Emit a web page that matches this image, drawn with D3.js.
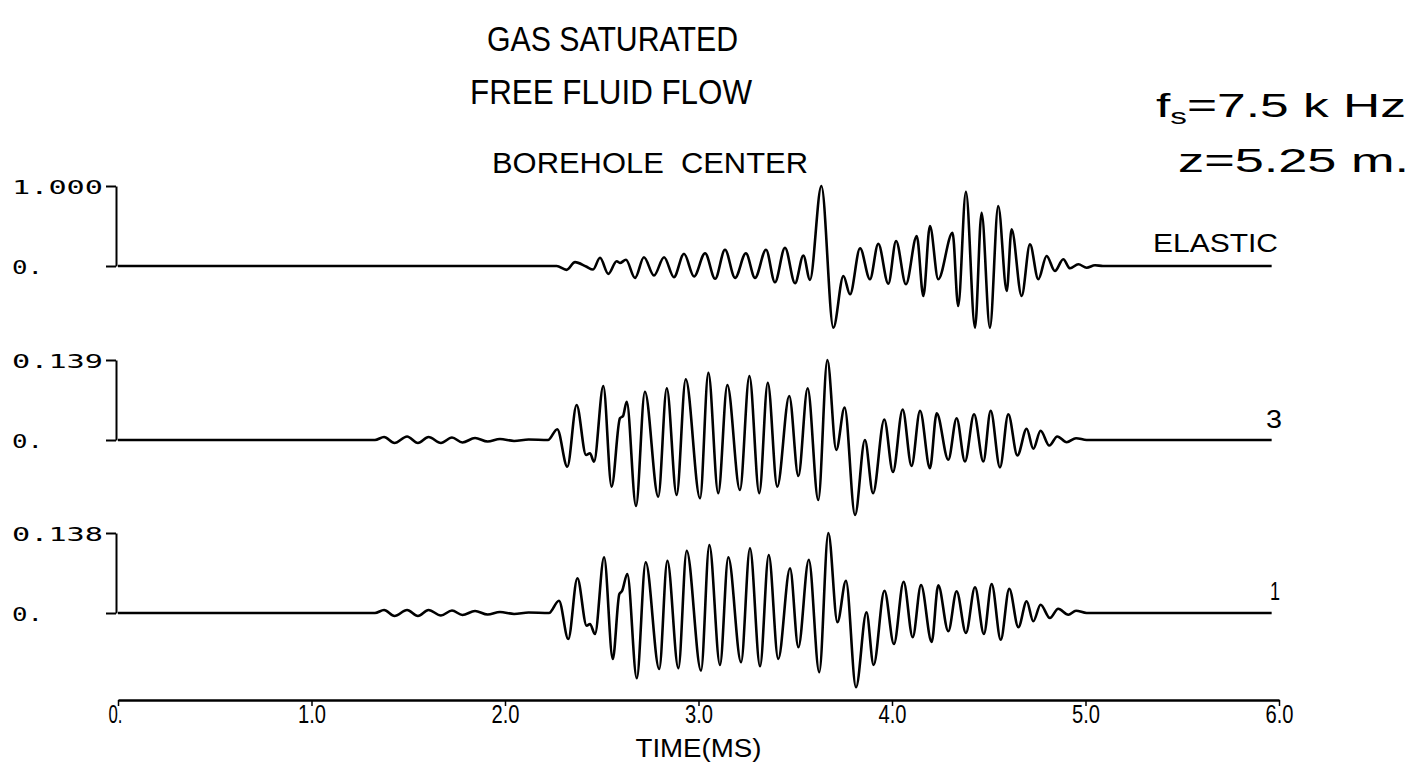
<!DOCTYPE html>
<html>
<head>
<meta charset="utf-8">
<script src="https://cdn.jsdelivr.net/npm/d3@7"></script>
<style>
  html, body { margin: 0; padding: 0; background: #fff; }
  svg { display: block; }
  text { fill: #000; }
</style>
</head>
<body>
<svg id="chart" width="1419" height="772"></svg>
<script>
// Time axis ticks (ms) and their printed labels
const timeTicks = [0, 1, 2, 3, 4, 5, 6];
const timeTickLabels = ["0.", "1.0", "2.0", "3.0", "4.0", "5.0", "6.0"];

// Trace names, full-scale amplitudes and the printed scale labels
const traceNames = ["ELASTIC", "3", "1"];
const traceScaleMax = [1.000, 0.139, 0.138];
const traceScaleLabels = ["1.000", "0.139", "0.138"];

// Waveforms at the borehole center: [time (ms), amplitude]
const traceElastic = [
  [0, 0], [2.267, 0], [2.318, -0.048], [2.362, 0.048], [2.419, -0.006], [2.455, -0.044],
  [2.491, 0.103], [2.534, -0.098], [2.577, 0.060], [2.594, 0.038], [2.625, 0.078],
  [2.672, -0.148], [2.718, 0.110], [2.770, -0.119], [2.822, 0.110], [2.873, -0.140],
  [2.925, 0.153], [2.977, -0.131], [3.034, 0.160], [3.086, -0.160], [3.137, 0.203],
  [3.189, -0.148], [3.245, 0.160], [3.292, -0.148], [3.349, 0.203], [3.395, -0.203],
  [3.447, 0.228], [3.499, -0.215], [3.542, 0.131], [3.576, -0.173], [3.635, 1.000],
  [3.697, -0.771], [3.749, -0.125], [3.783, -0.354], [3.835, 0.221], [3.886, -0.166],
  [3.929, 0.279], [3.981, -0.221], [4.021, 0.313], [4.072, -0.229], [4.128, 0.375],
  [4.162, -0.375], [4.196, 0.500], [4.239, -0.166], [4.313, 0.416], [4.342, -0.500],
  [4.382, 0.929], [4.429, -0.771], [4.463, 0.666], [4.506, -0.771], [4.549, 0.750],
  [4.593, -0.313], [4.618, 0.459], [4.670, -0.375], [4.713, 0.271], [4.756, -0.166],
  [4.799, 0.125], [4.842, -0.063], [4.885, 0.084], [4.920, -0.029], [4.963, 0.021],
  [5.006, -0.021], [5.049, 0.009], [5.090, 0], [5.962, 0]
];

const trace3 = [
  [0, 0], [1.328, 0], [1.375, 0.0052], [1.429, -0.0052], [1.494, 0.0061], [1.550, -0.0052],
  [1.605, 0.0052], [1.669, -0.0052], [1.726, 0.0043], [1.780, -0.0043], [1.845, 0.0035],
  [1.910, -0.0026], [1.974, 0.0017], [2.047, -0.0017], [2.122, 0.0009], [2.222, 0],
  [2.270, 0.0186], [2.322, -0.0464], [2.370, 0.0608], [2.419, -0.0261], [2.439, -0.0231],
  [2.460, -0.0377], [2.508, 0.0938], [2.551, -0.0811], [2.594, 0.0377], [2.610, 0.0417],
  [2.629, 0.0665], [2.677, -0.1147], [2.723, 0.0839], [2.792, -0.0985], [2.836, 0.0898],
  [2.887, -0.0956], [2.934, 0.1055], [3.008, -0.1013], [3.051, 0.1169], [3.102, -0.0926],
  [3.149, 0.0956], [3.214, -0.0869], [3.263, 0.1112], [3.314, -0.0926], [3.358, 0.0996],
  [3.407, -0.0811], [3.469, 0.0765], [3.516, -0.0626], [3.564, 0.0898], [3.619, -0.1043],
  [3.666, 0.1390], [3.712, -0.0174], [3.755, 0.0565], [3.809, -0.1303], [3.860, 0.0000],
  [3.902, -0.0926], [3.960, 0.0356], [4.005, -0.0556], [4.055, 0.0530], [4.101, -0.0452],
  [4.145, 0.0509], [4.196, -0.0490], [4.231, 0.0466], [4.291, -0.0344], [4.334, 0.0379],
  [4.377, -0.0374], [4.424, 0.0448], [4.472, -0.0374], [4.510, 0.0507], [4.558, -0.0478],
  [4.601, 0.0448], [4.648, -0.0269], [4.696, 0.0195], [4.730, -0.0153], [4.768, 0.0160],
  [4.813, -0.0096], [4.854, 0.0061], [4.903, -0.0038], [4.951, 0.0031], [5.006, 0],
  [5.962, 0]
];

const trace1 = [
  [0, 0], [1.328, 0], [1.375, 0.0052], [1.429, -0.0052], [1.494, 0.0052], [1.550, -0.0052],
  [1.605, 0.0052], [1.669, -0.0043], [1.726, 0.0043], [1.780, -0.0035], [1.845, 0.0035],
  [1.910, -0.0026], [1.974, 0.0017], [2.047, -0.0017], [2.122, 0.0009], [2.227, 0],
  [2.279, 0.0212], [2.327, -0.0449], [2.374, 0.0599], [2.422, -0.0219], [2.439, -0.0190],
  [2.465, -0.0362], [2.512, 0.0961], [2.557, -0.0794], [2.591, 0.0328], [2.605, 0.0380],
  [2.632, 0.0673], [2.681, -0.1126], [2.727, 0.0875], [2.797, -0.0966], [2.839, 0.0902],
  [2.896, -0.0954], [2.939, 0.1075], [3.013, -0.0995], [3.056, 0.1173], [3.111, -0.0897],
  [3.154, 0.0961], [3.220, -0.0850], [3.266, 0.1116], [3.318, -0.0919], [3.363, 0.1001],
  [3.412, -0.0794], [3.473, 0.0771], [3.516, -0.0592], [3.570, 0.0919], [3.624, -0.1023],
  [3.671, 0.1380], [3.718, -0.0160], [3.762, 0.0557], [3.814, -0.1282], [3.868, 0.0012],
  [3.905, -0.0897], [3.961, 0.0385], [4.010, -0.0535], [4.060, 0.0540], [4.107, -0.0419],
  [4.150, 0.0483], [4.205, -0.0500], [4.239, 0.0478], [4.291, -0.0316], [4.334, 0.0374],
  [4.382, -0.0345], [4.429, 0.0443], [4.475, -0.0362], [4.515, 0.0500], [4.562, -0.0461],
  [4.606, 0.0419], [4.653, -0.0247], [4.696, 0.0202], [4.730, -0.0143], [4.768, 0.0143],
  [4.816, -0.0086], [4.859, 0.0074], [4.911, -0.0029], [4.951, 0.0040], [5.006, 0],
  [5.962, 0]
];

const traces = [traceElastic, trace3, trace1];

// ---- layout ----
const svg = d3.select("#chart");
svg.append("rect").attr("width", 1419).attr("height", 772).attr("fill", "#fff");

const x = d3.scaleLinear().domain([0, 6]).range([118, 1279]);
const baselines = [266, 440, 613];
const traceHeight = 80;
const axisX = 116;

const monoFont = "'DejaVu Sans Mono', 'Liberation Mono', monospace";
const sansFont = "'Liberation Sans', Arial, Helvetica, sans-serif";

traces.forEach((data, i) => {
  const base = baselines[i];
  const y = d3.scaleLinear()
    .domain([0, traceScaleMax[i]])
    .range([base, base - traceHeight]);

  // amplitude scale bar: vertical line with ticks at zero and full scale
  const yAxis = d3.axisLeft(y)
    .tickValues([0, traceScaleMax[i]])
    .tickSize(10)
    .tickSizeOuter(0)
    .tickFormat((d, k) => k === 0 ? "0." : traceScaleLabels[i]);

  const g = svg.append("g")
    .attr("transform", `translate(${axisX},0)`)
    .call(yAxis);
  g.select(".domain").attr("stroke", "#000").attr("stroke-width", 2);
  g.selectAll(".tick line").attr("stroke", "#000").attr("stroke-width", 2);
  g.selectAll(".tick text")
    .attr("x", 12 - axisX)
    .attr("text-anchor", "start")
    .attr("font-family", monoFont)
    .attr("font-size", 20)
    .attr("textLength", (d, k) => k === 0 ? 31 : 91)
    .attr("lengthAdjust", "spacingAndGlyphs")
    .attr("dy", "0.36em");

  // waveform
  const line = d3.line()
    .x(d => x(d[0]))
    .y(d => y(d[1]))
    .curve(d3.curveMonotoneX);

  svg.append("path")
    .datum(data)
    .attr("d", line)
    .attr("fill", "none")
    .attr("stroke", "#000")
    .attr("stroke-width", 2.6)
    .attr("stroke-linejoin", "round");
});

// trace names at the right end of each trace
const nameSpecs = [
  { x: 1153, y: 252, len: 125, size: 25 },
  { x: 1266, y: 428, len: 16, size: 25 },
  { x: 1270, y: 600, len: 10, size: 25 }
];
traceNames.forEach((name, i) => {
  const s = nameSpecs[i];
  svg.append("text")
    .attr("x", s.x).attr("y", s.y)
    .attr("font-family", sansFont)
    .attr("font-size", s.size)
    .attr("textLength", s.len)
    .attr("lengthAdjust", "spacingAndGlyphs")
    .text(name);
});

// time axis
const xAxisY = 700;
const xAxis = d3.axisBottom(x)
  .tickValues(timeTicks)
  .tickSize(6)
  .tickSizeOuter(0)
  .tickFormat((d, k) => timeTickLabels[k]);

const gx = svg.append("g")
  .attr("transform", `translate(0,${xAxisY})`)
  .call(xAxis);
gx.select(".domain").attr("stroke", "#000").attr("stroke-width", 2.4);
gx.selectAll(".tick line").attr("stroke", "#000").attr("stroke-width", 1.5);
gx.selectAll(".tick text")
  .attr("font-family", sansFont)
  .attr("font-size", 25)
  .attr("y", 23)
  .attr("dy", 0)
  .attr("textLength", (d, k) => k === 0 ? 14 : 28)
  .attr("lengthAdjust", "spacingAndGlyphs")
  .attr("text-anchor", (d, k) => k === 0 ? "end" : "middle")
  .attr("dx", (d, k) => k === 0 ? 4 : 0);

svg.append("text")
  .attr("x", x(3)).attr("y", 757)
  .attr("text-anchor", "middle")
  .attr("font-family", sansFont)
  .attr("font-size", 25)
  .attr("textLength", 126)
  .attr("lengthAdjust", "spacingAndGlyphs")
  .text("TIME(MS)");

// titles
const titles = [
  { text: "GAS SATURATED", x: 487, y: 51, size: 35, len: 251 },
  { text: "FREE FLUID FLOW", x: 470, y: 104, size: 35, len: 282 },
  { text: "BOREHOLE  CENTER", x: 492, y: 173, size: 29, len: 316 }
];
titles.forEach(t => {
  svg.append("text")
    .attr("x", t.x).attr("y", t.y)
    .attr("font-family", sansFont)
    .attr("font-size", t.size)
    .attr("textLength", t.len)
    .attr("lengthAdjust", "spacingAndGlyphs")
    .style("white-space", "pre")
    .text(t.text);
});

// source parameters
const fsText = svg.append("text")
  .attr("x", 1156).attr("y", 117)
  .attr("font-family", sansFont)
  .attr("font-size", 34)
  .attr("textLength", 250)
  .attr("lengthAdjust", "spacingAndGlyphs")
  .style("white-space", "pre");
fsText.append("tspan").text("f");
fsText.append("tspan").attr("font-size", 22).attr("dy", 7).text("s");
fsText.append("tspan").attr("dy", -7).text("=7.5 k Hz");

svg.append("text")
  .attr("x", 1178).attr("y", 172)
  .attr("font-family", sansFont)
  .attr("font-size", 34)
  .attr("textLength", 231)
  .attr("lengthAdjust", "spacingAndGlyphs")
  .style("white-space", "pre")
  .text("z=5.25 m.");
</script>
</body>
</html>
